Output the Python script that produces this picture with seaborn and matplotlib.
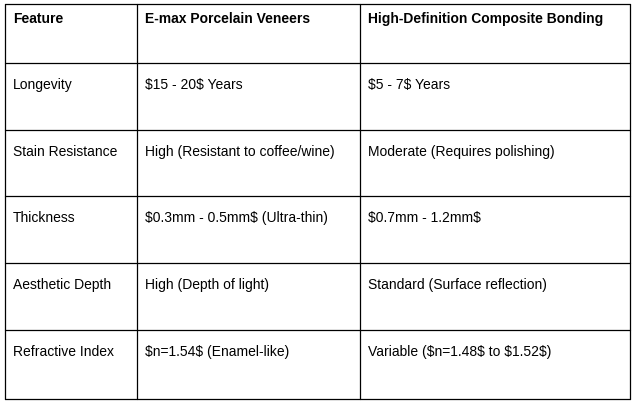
import matplotlib.pyplot as plt
import seaborn as sns

sns.set_theme(style="white")
plt.rcParams['font.family'] = ['Liberation Sans', 'DejaVu Sans']

headers = ["Feature", "E-max Porcelain Veneers", "High-Definition Composite Bonding"]
features = ["Longevity", "Stain Resistance", "Thickness", "Aesthetic Depth", "Refractive Index"]
emax = ["$15 - 20$ Years", "High (Resistant to coffee/wine)", "$0.3mm - 0.5mm$ (Ultra-thin)",
        "High (Depth of light)", "$n=1.54$ (Enamel-like)"]
composite = ["$5 - 7$ Years", "Moderate (Requires polishing)", "$0.7mm - 1.2mm$",
             "Standard (Surface reflection)", "Variable ($n=1.48$ to $1.52$)"]

# pixel grid of the table
col_edges = [5, 137, 360, 630]
row_edges = [5, 64, 131, 197, 264, 331, 400]

fig = plt.figure(figsize=(6.39, 4.10), dpi=100)
ax = fig.add_axes([0, 0, 1, 1])
ax.set_xlim(0, 639)
ax.set_ylim(410, 0)
ax.axis("off")

for x in col_edges:
    ax.plot([x, x], [row_edges[0], row_edges[-1]], color="black", lw=0.9)
for y in row_edges:
    ax.plot([col_edges[0], col_edges[-1]], [y, y], color="black", lw=0.9)

rows = [headers] + [list(r) for r in zip(features, emax, composite)]
for i, row in enumerate(rows):
    top = row_edges[i]
    offset = 14 if i == 0 else 21
    for j, txt in enumerate(row):
        ax.text(col_edges[j] + 8, top + offset, txt, ha="left", va="center",
                fontsize=10, color="black", fontweight="bold" if i == 0 else "normal",
                parse_math=False)

fig.savefig("out.png", dpi=100, facecolor="white")
